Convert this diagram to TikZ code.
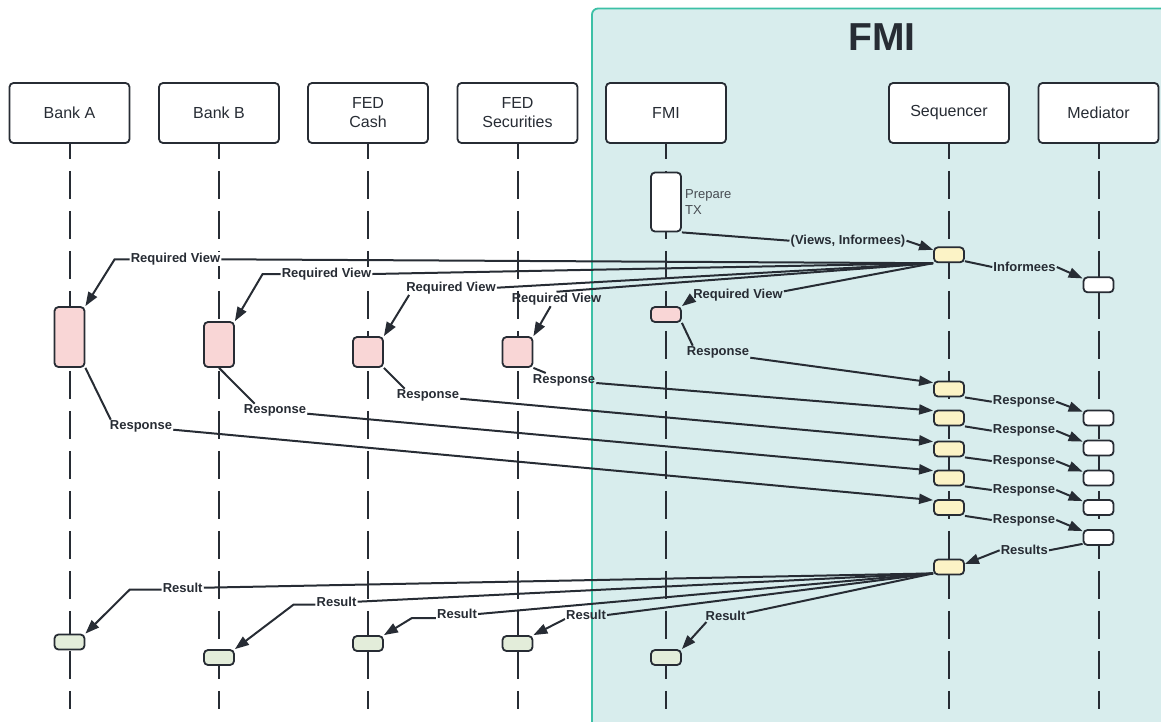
\documentclass[tikz,border=0pt]{standalone}
\usepackage{fontspec}
\setmainfont{Liberation Sans}
\usetikzlibrary{arrows.meta}
\definecolor{ink}{HTML}{272C34}
\definecolor{fmibg}{HTML}{D8EDED}
\definecolor{fmiedge}{HTML}{3CC0A6}
\definecolor{viewpink}{HTML}{F9D6D6}
\definecolor{seqyellow}{HTML}{FCF3C6}
\definecolor{resgreen}{HTML}{E3EDDA}
\begin{document}
\begin{tikzpicture}[
  x=1pt, y=-1pt,
  actor/.style={draw=ink, line width=1.8pt, rounded corners=4pt, fill=white,
    minimum width=120pt, minimum height=60pt, align=center, text=ink,
    font=\fontsize{16}{19}\selectfont},
  act/.style={draw=ink, line width=1.8pt, rounded corners=4pt,
    minimum width=30pt, minimum height=15pt, inner sep=0pt},
  life/.style={draw=ink, line width=2pt, dash pattern=on 28pt off 12pt, dash phase=13pt},
  msg/.style={draw=ink, line width=2pt},
  msgarrow/.style={-{Triangle[length=14pt,width=10pt]}},
  lbl/.style={font=\bfseries\fontsize{13}{15}\selectfont, text=ink, inner sep=1pt, fill=white},
  lblin/.style={lbl, fill=fmibg}
]
\useasboundingbox (0,0) rectangle (1161,721);

% FMI area
\draw[fmiedge, fill=fmibg, line width=1.8pt, rounded corners=6pt] (592,8.5) rectangle (1175,735);
\node[font=\bfseries\fontsize{39}{40}\selectfont, text=ink] (title) at (882,37) {FMI};

% participants
\node[actor] (bankA) at (69.5,113) {Bank A};
\node[actor] (bankB) at (219,113) {Bank B};
\node[actor] (fedC) at (368,113) {FED\\Cash};
\node[actor] (fedS) at (517.5,113) {FED\\Securities};
\node[actor] (fmi) at (666,113) {FMI};
\node[actor] (seq) at (949,113) {Sequencer};
\node[actor] (med) at (1098.5,113) {Mediator};

\coordinate (bottom) at (0,709);
\foreach \a in {bankA,bankB,fedC,fedS,fmi,seq,med}
  \draw[life] (\a.south) -- (\a.south |- bottom);

% activations
\node[act, fill=white, minimum height=59pt] (prep) at (666,202) {};
\node[anchor=west, align=left, inner sep=0pt, text=ink!85,
  font=\fontsize{13}{16}\selectfont] (prepTxt) at (685,202) {Prepare\\TX};

\foreach \n/\y in {1/254.8,2/389,3/418,4/449,5/478,6/507.5,7/567}
  \node[act, fill=seqyellow] (seq\n) at (949,\y) {};
\foreach \n/\y in {1/284.8,2/418,3/448,4/478,5/507.5,6/537.5}
  \node[act, fill=white] (med\n) at (1098.5,\y) {};

\node[act, fill=viewpink, minimum height=60pt] (actA) at (69.5,337) {};
\node[act, fill=viewpink, minimum height=45pt] (actB) at (219,344.5) {};
\node[act, fill=viewpink, minimum height=30pt] (actC) at (368,352) {};
\node[act, fill=viewpink, minimum height=30pt] (actS) at (517.5,352) {};
\node[act, fill=viewpink] (actF) at (666,314.5) {};

\node[act, fill=resgreen] (resA) at (69.5,642) {};
\node[act, fill=resgreen] (resB) at (219,657.5) {};
\node[act, fill=resgreen] (resC) at (368,643.5) {};
\node[act, fill=resgreen] (resS) at (517.5,643.5) {};
\node[act, fill=resgreen] (resF) at (666,657.5) {};

% labels
\node[lblin] (vi) at (848,240.7) {(Views, Informees)};
\node[lblin] (inf) at (1024.5,267) {Informees};
\node[lbl] (rvA) at (175.5,259.3) {Required View};
\node[lbl] (rvB) at (326.5,274) {Required View};
\node[lbl] (rvC) at (451,287.7) {Required View};
\node[lbl, fill=none] (rvS) at (556.5,299) {Required View};
\node[lblin] (rvF) at (738,295.3) {Required View};
\node[lblin] (rsF) at (718,352.7) {Response};
\node[lbl, fill=none] (rsS) at (564,380) {Response};
\node[lbl] (rsC) at (428,395.7) {Response};
\node[lbl] (rsB) at (275,410.7) {Response};
\node[lbl] (rsA) at (141,426.7) {Response};
\node[lblin] (rts) at (1024.3,550.3) {Results};
\node[lbl] (rtA) at (182.7,587.7) {Result};
\node[lbl] (rtB) at (336.5,601.7) {Result};
\node[lbl] (rtC) at (457,614) {Result};
\node[lbl, fill=none] (rtS) at (586,615) {Result};
\node[lblin] (rtF) at (725.5,616) {Result};

% prepare and views
\draw[msg, msgarrow] (prep.south east) -- (vi.west) (vi.east) -- ([yshift=5pt]seq1.west);
\draw[msg, msgarrow] ([yshift=2pt]seq1.south east) -- (inf.west) (inf.east) -- ([yshift=-2pt]med1.north west);

\draw[msg, msgarrow] (seq1.south west) -- (rvA.east) (rvA.west) -- ++(-15,0) -- (actA.north east);
\draw[msg, msgarrow] (seq1.south west) -- (rvB.east) (rvB.west) -- ++(-18,0) -- (actB.north east);
\draw[msg, msgarrow] (seq1.south west) -- (rvC.east) ([xshift=4pt]rvC.south west) -- (actC.north east);
\draw[msg, msgarrow] (seq1.south west) -- (rvS.north) ([xshift=40pt]rvS.south west) -- (actS.north east);
\draw[msg, msgarrow] (seq1.south west) -- ([yshift=4pt]rvF.east) ([yshift=-3pt]rvF.west) -- (actF.north east);

% responses
\draw[msg, msgarrow] (actF.south east) -- ([xshift=7pt]rsF.north west) ([yshift=-5pt]rsF.east) -- ([yshift=-2pt]seq2.north west);
\draw[msg, msgarrow] (actS.south east) -- ([xshift=14pt]rsS.north west) ([yshift=-3pt]rsS.east) -- ([yshift=-1pt]seq3.north west);
\draw[msg, msgarrow] (actC.south east) -- ([xshift=9pt]rsC.north west) ([yshift=-3pt]rsC.east) -- ([yshift=-1pt]seq4.north west);
\draw[msg, msgarrow] (actB.south) -- ([xshift=12pt]rsB.north west) ([yshift=-3pt]rsB.east) -- ([yshift=-1pt]seq5.north west);
\draw[msg, msgarrow] (actA.south east) -- ([xshift=2pt]rsA.north west) ([yshift=-3pt]rsA.east) -- ([yshift=-1pt]seq6.north west);

\foreach \k/\y in {2/401.7,3/430.7,4/461,5/490,6/520} {
  \node[lblin] (rsM\k) at (1024,\y) {Response};
  \draw[msg, msgarrow] (seq\k.south east) -- (rsM\k.west) (rsM\k.east) -- ([yshift=-2pt]med\k.north west);
}

% results
\draw[msg, msgarrow] ([yshift=2pt]med6.south west) -- (rts.east) (rts.west) -- ([yshift=3pt]seq7.east);
\draw[msg, msgarrow] ([yshift=2pt]seq7.south west) -- ([yshift=3pt]rtF.east) ([xshift=2pt]rtF.south west) -- (resF.north east);
\draw[msg, msgarrow] ([yshift=2pt]seq7.south west) -- (rtS.east) ([yshift=-4pt]rtS.west) -- (resS.north east);
\draw[msg, msgarrow] ([yshift=2pt]seq7.south west) -- (rtC.east) ([yshift=-4pt]rtC.west) -- ++(-24,0) -- (resC.north east);
\draw[msg, msgarrow] ([yshift=2pt]seq7.south west) -- (rtB.east) ([yshift=-3pt]rtB.west) -- ++(-22,0) -- (resB.north east);
\draw[msg, msgarrow] ([yshift=2pt]seq7.south west) -- (rtA.east) ([yshift=-2pt]rtA.west) -- ++(-32,0) -- (resA.north east);
\end{tikzpicture}
\end{document}
